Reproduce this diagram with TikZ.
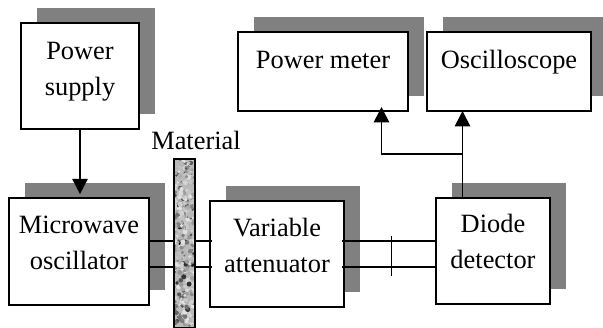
\documentclass[tikz,border=0pt]{standalone}
\usepackage{fontspec}
\setmainfont{Liberation Serif}
\usetikzlibrary{calc,arrows.meta,positioning,shadows}
\definecolor{shadowGray}{RGB}{128,128,128}
\definecolor{barGray}{RGB}{185,185,185}
\tikzset{
  blockbox/.style={draw=black, line width=1.2pt, fill=white, inner sep=0pt, outer sep=0pt,
    align=center, font=\fontsize{19.8}{27}\selectfont,
    general shadow={fill=shadowGray, shadow xshift=12pt, shadow yshift=11.5pt}},
  flowline/.style={line width=1.2pt, -{Triangle[length=11.5pt,width=11.5pt]}},
  waveline/.style={line width=1pt}
}
\pgfmathsetseed{41}
\begin{document}
\begin{tikzpicture}[x=0.75pt,y=-0.75pt]
\useasboundingbox (0,0) rectangle (603,328);
\node[blockbox, minimum width=88.5pt, minimum height=79.5pt] (supply) at (80,76) {Power\\supply\\[-16.5pt]\mbox{}};
\node[blockbox, minimum width=127.5pt, minimum height=59.25pt] (meter) at (323,71.5) {Power meter\\[-9pt]\mbox{}};
\node[blockbox, minimum width=123pt, minimum height=59.25pt] (scope) at (509,71.5) {Oscilloscope\\[-9pt]\mbox{}};
\node[blockbox, minimum width=105pt, minimum height=80pt] (micro) at (79,251.5) {Microwave\\oscillator\\[-13.5pt]\mbox{}};
\node[blockbox, minimum width=100.5pt, minimum height=79.5pt] (atten) at (277,254) {Variable\\attenuator\\[-13.5pt]\mbox{}};
\node[blockbox, minimum width=85.5pt, minimum height=79.5pt] (diode) at (493,251) {Diode\\detector\\[-12pt]\mbox{}};
\node[font=\fontsize{19.8}{24}\selectfont, inner sep=0pt] (matlabel) at (196,140) {Material};
% lines through the sample
\draw[waveline] ($(micro.east)+(0,-10.5)$) -- ($(atten.west)+(2,-13)$);
\draw[waveline] ($(micro.east)+(0,15.5)$) -- ($(atten.west)+(2,13)$);
\draw[waveline] ($(atten.east)+(-2,-13)$) -- ($(diode.west)+(0,-10)$);
\draw[waveline] ($(atten.east)+(-2,13)$) -- ($(diode.west)+(0,16)$);
\node[draw=black, line width=1.2pt, minimum width=15.75pt, minimum height=126.75pt, inner sep=0pt, outer sep=0pt,
  path picture={
    \fill[barGray] (path picture bounding box.south west) rectangle (path picture bounding box.north east);
    \foreach \i in {1,...,420} {
      \pgfmathsetmacro{\px}{21*rand/2}
      \pgfmathsetmacro{\py}{169*rand/2}
      \pgfmathsetmacro{\shade}{10+85*rnd*rnd}
      \pgfmathsetmacro{\rad}{0.8+1.8*rnd}
      \fill[black!\shade!white] (\px,\py) circle ({\rad});
    }
  }] (material) at (184.5,243.5) {};
\coordinate (tick1) at (391.5,236);
\coordinate (tick2) at (391.5,276);
\draw[waveline] (tick1) -- (tick2);
% arrows
\draw[flowline, shorten >=3pt] (supply.south) -- (micro.north -| supply.south);
\coordinate (tap) at (462.5,154);
\coordinate (meterin) at (381.5,107);
\draw[flowline] (tap |- diode.north) -- (tap |- scope.south);
\draw[flowline] (tap) -| (meterin);
\end{tikzpicture}
\end{document}
